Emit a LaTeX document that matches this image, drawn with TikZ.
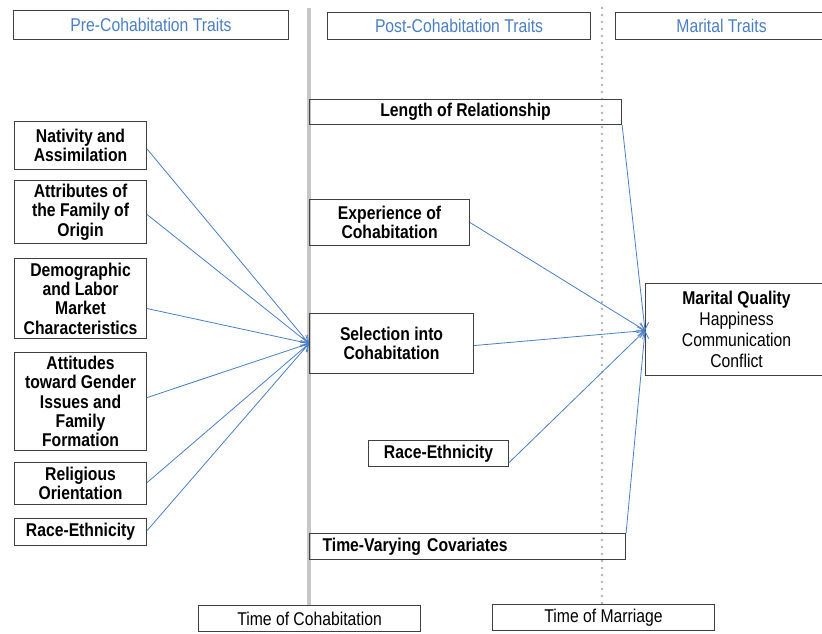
\documentclass[tikz,border=0pt]{standalone}
\usepackage{fontspec}
\setmainfont{Liberation Sans}[FakeStretch=0.85]
\usetikzlibrary{arrows.meta}
\definecolor{hdrblue}{HTML}{4A7EC4}
\definecolor{arrblue}{HTML}{4A7EC4}
\begin{document}
\begin{tikzpicture}[x=1pt,y=-1pt,
  box/.style={draw=black!75, line width=1.1pt, inner sep=0pt, align=center, anchor=north west,
    font=\fontsize{18.5}{19.3}\selectfont\bfseries},
  hdr/.style={box, font=\fontsize{18.5}{19.3}\selectfont, text=hdrblue},
  plainbox/.style={box, font=\fontsize{18.5}{19.3}\selectfont},
  link/.style={draw=arrblue, line width=0.8pt, -{Straight Barb[length=7pt,width=9pt]}}]
\useasboundingbox (0,0) rectangle (822,633);

% time lines
\draw[black!22, line width=4pt] (309,8) -- (309,605);
\draw[black!30, line width=2.6pt, line cap=round, dash pattern=on 0pt off 7pt] (602,8) -- (602,604);

% headers
\node[hdr, minimum width=275pt, minimum height=29pt] (h1) at (13,10) {Pre-Cohabitation Traits};
\node[hdr, minimum width=263pt, minimum height=27pt] (h2) at (327,12) {Post-Cohabitation Traits};
\node[hdr, minimum width=212pt, minimum height=27pt] (h3) at (615,12) {Marital Traits};

% left column
\node[box, minimum width=132pt, minimum height=48pt] (nat) at (14,121) {Nativity and\\Assimilation};
\node[box, minimum width=132pt, minimum height=63pt] (fam) at (14,180) {Attributes of\\the Family of\\Origin};
\node[box, minimum width=132pt, minimum height=80pt] (dem) at (14,258) {Demographic\\and Labor\\Market\\Characteristics};
\node[box, minimum width=132pt, minimum height=98pt] (att) at (14,352) {Attitudes\\toward Gender\\Issues and\\Family\\Formation};
\node[box, minimum width=132pt, minimum height=42pt] (rel) at (14,462) {Religious\\Orientation};
\node[box, minimum width=132pt, minimum height=27pt] (rl) at (14,518) {Race-Ethnicity};

% middle column
\node[box, minimum width=312pt, minimum height=25pt] (len) at (309,99) {Length of Relationship};
\node[box, minimum width=160pt, minimum height=46pt] (exp) at (309,199) {Experience of\\Cohabitation};
\node[box, minimum width=164pt, minimum height=60pt] (sel) at (309,313) {Selection into\\Cohabitation};
\node[box, minimum width=140pt, minimum height=26pt] (rm) at (368,440) {Race-Ethnicity};
\node[box, minimum width=316pt, minimum height=26pt, align=left, text width=290pt] (tvc) at (309,533) {Time-Varying Covariates};

% right
\node[plainbox, minimum width=182pt, minimum height=92pt, font=\fontsize{18.5}{21}\selectfont] (mq) at (645,283)
  {\textbf{Marital Quality}\\Happiness\\Communication\\Conflict};

% bottom
\node[plainbox, minimum width=222pt, minimum height=26pt] (tc) at (198,605) {Time of Cohabitation};
\node[plainbox, minimum width=222pt, minimum height=26pt] (tm) at (492,604) {Time of Marriage};

% arrows into selection
\draw[link] ([yshift=-3.5pt]nat.east) -- (sel.west);
\draw[link] ([yshift=-2.5pt]fam.east) -- (sel.west);
\draw[link] ([yshift=-10pt]dem.east) -- (sel.west);
\draw[link] ([yshift=4pt]att.east) -- (sel.west);
\draw[link] ([yshift=1pt]rel.east) -- (sel.west);
\draw[link] ([yshift=1.5pt]rl.east) -- (sel.west);

% arrows into marital quality
\draw[link] (len.south east) -- ([yshift=-1pt]mq.west);
\draw[link] (exp.east) -- ([yshift=-1pt]mq.west);
\draw[link] ([yshift=-2pt]sel.east) -- ([yshift=-1pt]mq.west);
\draw[link] ([yshift=-9pt]rm.east) -- ([yshift=-1pt]mq.west);
\draw[link] (tvc.north east) -- ([yshift=-1pt]mq.west);
\end{tikzpicture}
\end{document}
